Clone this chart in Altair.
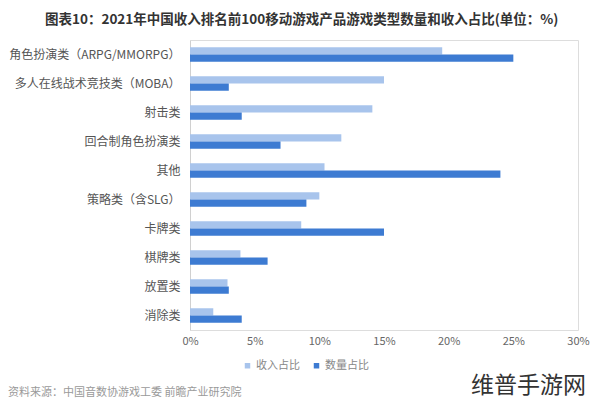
import altair as alt
import pandas as pd

categories = ["角色扮演类（ARPG/MMORPG）", "多人在线战术竞技类（MOBA）", "射击类", "回合制角色扮演类",
              "其他", "策略类（含SLG）", "卡牌类", "棋牌类", "放置类", "消除类"]
revenue = [19.5, 15.0, 14.1, 11.7, 10.4, 10.0, 8.6, 3.9, 2.9, 1.8]
count = [25.0, 3.0, 4.0, 7.0, 24.0, 9.0, 15.0, 6.0, 3.0, 4.0]
series = ["收入占比", "数量占比"]
colors = ["#a8c4ec", "#3d7bd2"]
x_ticks = [0, 5, 10, 15, 20, 25, 30]

rows = []
for c, r, n in zip(categories, revenue, count):
    rows.append({"cat": c, "series": series[0], "value": r})
    rows.append({"cat": c, "series": series[1], "value": n})
df = pd.DataFrame(rows)

W, H = 388, 290
FONT = "Noto Sans CJK SC"

bars = alt.Chart(df).mark_bar().encode(
    y=alt.Y("cat:N", sort=categories, title=None,
            scale=alt.Scale(paddingInner=0.5, paddingOuter=0.25),
            axis=alt.Axis(ticks=False, domainColor="#d0d0d0", labelColor="#555555",
                          labelFontSize=12, labelPadding=10, minExtent=182, maxExtent=182,
                          labelFont=FONT, labelLimit=200)),
    x=alt.X("value:Q", title=None,
            scale=alt.Scale(domain=[0, 30], nice=False),
            axis=alt.Axis(values=x_ticks, grid=False, domain=False, ticks=False,
                          labelFlush=False,
                          labelExpr="datum.value + '%'", labelColor="#666666",
                          labelFontSize=11, labelPadding=5, labelFont=FONT)),
    yOffset=alt.YOffset("series:N", sort=series),
    color=alt.Color("series:N", sort=series,
                    scale=alt.Scale(domain=series, range=colors),
                    legend=alt.Legend(title=None, orient="none", legendX=52, legendY=320,
                                      direction="horizontal", symbolType="square",
                                      symbolSize=30, labelColor="#888888", labelFontSize=11,
                                      labelOffset=3, labelFont=FONT, columnPadding=11,
                                      symbolStrokeWidth=0)),
)

note = pd.DataFrame({"t": ["资料来源：中国音数协游戏工委 前瞻产业研究院"]})
source = alt.Chart(note).mark_text(align="left", baseline="middle", fontSize=11,
                                   color="#9a9a9a", font=FONT).encode(
    x=alt.value(-182), y=alt.value(353), text="t:N")

wm = pd.DataFrame({"t": ["维普手游网"]})
watermark = alt.Chart(wm).mark_text(align="right", baseline="middle", fontSize=23,
                                    color="#333333", font=FONT).encode(
    x=alt.value(396), y=alt.value(346), text="t:N")

chart = alt.layer(bars, source, watermark).properties(
    width=W, height=H, padding={"top": 4, "left": 0, "right": 2, "bottom": 3},
    title=alt.TitleParams("图表10：2021年中国收入排名前100移动游戏产品游戏类型数量和收入占比(单位：%)",
                          anchor="start", fontSize=13.5, fontWeight="bold", color="#333333",
                          font=FONT, offset=14, frame="group", dx=-145),
).configure_view(stroke=None).configure(background="white")

chart.save("out.html", embed_options={"renderer": "svg", "actions": False})
